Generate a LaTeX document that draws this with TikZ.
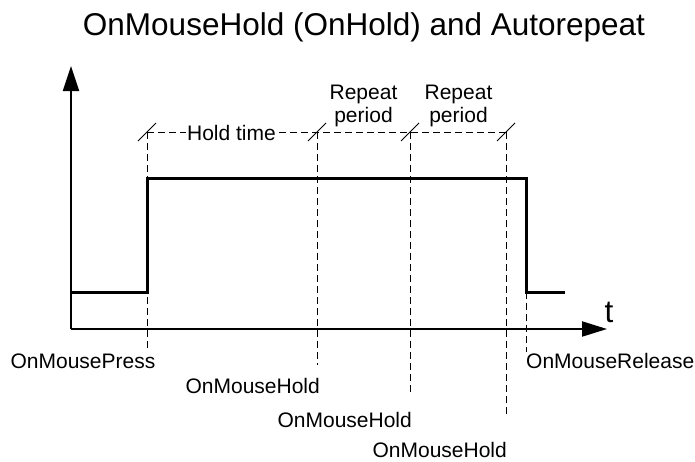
\documentclass[tikz,border=0pt]{standalone}
\usepackage{fontspec}
\setmainfont{Liberation Sans}
\usetikzlibrary{arrows.meta,positioning,calc}

\begin{document}
\begin{tikzpicture}[x=1pt,y=-1pt,
    lbl/.style={font=\fontsize{21}{23.4}\selectfont,inner sep=0pt,anchor=base},
    big/.style={font=\fontsize{31.5}{34}\selectfont,inner sep=0pt,anchor=base},
    guide/.style={line width=0.9pt,dash pattern=on 7pt off 4pt},
    tick/.style={line width=0.9pt}]
  \useasboundingbox (0,0) rectangle (695,461); % 画像全体の範囲
  \coordinate (o) at (71,329); % 原点
  \coordinate (ytop) at (71,66); % 縦軸の先端
  \coordinate (xend) at (607,329); % 横軸の先端
  \node[big] (title) at (364,35) {OnMouseHold (OnHold) and Autorepeat}; % 表題
  \draw[line width=2pt,-{Triangle[length=25pt,width=16pt]}] (o) -- (ytop); % 縦軸
  \draw[line width=2pt,-{Triangle[length=25pt,width=15pt]}] (o) -- (xend); % 横軸（時間）
  \node[big] (t) at (609,322) {t}; % 時間軸の記号
  \draw[line width=3pt] (71,292) -- (147,292) -- (147,178) -- (526,178) -- (526,292) -- (565,292); % ボタンの信号
  \draw[guide] (147,132) -- (147,348); % 押した時刻
  \draw[guide] (317,132) -- (317,365); % 1回目のホールド
  \draw[guide] (410,132) -- (410,393); % 2回目のホールド
  \draw[guide] (506,132) -- (506,416); % 3回目のホールド
  \draw[guide] (526,292) -- (526,352); % 離した時刻
  \draw[guide] (147,132) -- (506,132); % 期間を示す点線
  \foreach \tx in {147,317,410,506}
    \draw[tick] (\tx-9,141) -- (\tx+9,123); % 区切りの斜線
  \node[lbl,fill=white,inner xsep=1pt] (hold) at (231.5,140) {Hold time}; % 保持時間
  \node[lbl,align=center] (rep1) at (363.5,122.5) {Repeat\\period}; % 1つ目の繰り返し周期
  \node[lbl,align=center] (rep2) at (458.5,122.5) {Repeat\\period}; % 2つ目の繰り返し周期
  \node[lbl] (press) at (83,368) {OnMousePress}; % 押下イベント
  \node[lbl,anchor=base east] (hold1) at (320,393) {OnMouseHold}; % ホールドイベント1
  \node[lbl,anchor=base east] (hold2) at (412,427) {OnMouseHold}; % ホールドイベント2
  \node[lbl,anchor=base east] (hold3) at (507,457) {OnMouseHold}; % ホールドイベント3
  \node[lbl,anchor=base west] (release) at (526,368) {OnMouseRelease}; % 解放イベント
\end{tikzpicture}
\end{document}
